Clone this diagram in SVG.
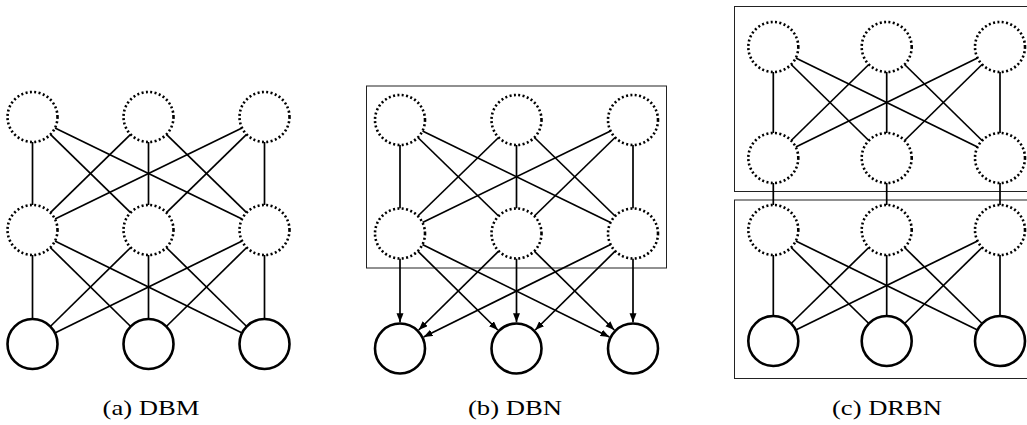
<svg xmlns="http://www.w3.org/2000/svg" width="1027" height="425" viewBox="0 0 1027 425">
<style>
.h{fill:#fff;stroke:#000;stroke-width:2.6;stroke-dasharray:2 2.4}
.v{fill:#fff;stroke:#000;stroke-width:2.6}
.e line{stroke:#000;stroke-width:1.7}
.a line{marker-end:url(#ah)}
.box{fill:none;stroke:#222;stroke-width:1}
.cap{font-family:"Liberation Serif",serif;font-size:22px;fill:#000;text-anchor:middle}
</style>
<defs>
<marker id="ah" markerUnits="userSpaceOnUse" markerWidth="10" markerHeight="8" refX="9" refY="3.5" orient="auto">
<path d="M0,0 L9,3.5 L0,7 z" fill="#000"/>
</marker>
</defs>
<rect width="1027" height="425" fill="#fff"/>
<rect class="box" x="366.5" y="86" width="300" height="182"/>
<rect class="box" x="734.5" y="6.5" width="300" height="185"/>
<rect class="box" x="734.5" y="200" width="300" height="178.5"/>
<g id="connectors" class="e">
<g id="conn-a">
<line x1="32.5" y1="142" x2="32.5" y2="205"/><line x1="148.5" y1="142" x2="148.5" y2="205"/><line x1="264.5" y1="142" x2="264.5" y2="205"/>
<line x1="50.4" y1="134.4" x2="130.6" y2="212.6"/><line x1="166.4" y1="134.4" x2="246.6" y2="212.6"/>
<line x1="130.6" y1="134.4" x2="50.4" y2="212.6"/><line x1="246.6" y1="134.4" x2="166.4" y2="212.6"/>
<line x1="55" y1="128" x2="242" y2="219"/><line x1="242" y1="128" x2="55" y2="219"/>
<line x1="32.5" y1="255" x2="32.5" y2="319"/><line x1="148.5" y1="255" x2="148.5" y2="319"/><line x1="264.5" y1="255" x2="264.5" y2="319"/>
<line x1="50.3" y1="247.5" x2="130.7" y2="326.5"/><line x1="166.3" y1="247.5" x2="246.7" y2="326.5"/>
<line x1="130.7" y1="247.5" x2="50.3" y2="326.5"/><line x1="246.7" y1="247.5" x2="166.3" y2="326.5"/>
<line x1="54.9" y1="241" x2="242.1" y2="333"/><line x1="242.1" y1="241" x2="54.9" y2="333"/>
</g>
<g id="conn-b">
<line x1="400" y1="145" x2="400" y2="208.5"/><line x1="516.5" y1="145" x2="516.5" y2="208.5"/><line x1="633" y1="145" x2="633" y2="208.5"/>
<line x1="417.9" y1="137.5" x2="498.6" y2="216"/><line x1="534.4" y1="137.5" x2="615.1" y2="216"/>
<line x1="498.6" y1="137.5" x2="417.9" y2="216"/><line x1="615.1" y1="137.5" x2="534.4" y2="216"/>
<line x1="422.5" y1="131" x2="610.5" y2="222.5"/><line x1="610.5" y1="131" x2="422.5" y2="222.5"/>
<g class="a">
<line x1="400" y1="258.5" x2="400" y2="322.2"/><line x1="516.5" y1="258.5" x2="516.5" y2="322.2"/><line x1="633" y1="258.5" x2="633" y2="322.2"/>
<line x1="417.8" y1="251.1" x2="497.8" y2="330"/><line x1="534.3" y1="251.1" x2="614.3" y2="330"/>
<line x1="498.7" y1="251.1" x2="418.7" y2="330"/><line x1="615.2" y1="251.1" x2="535.2" y2="330"/>
<line x1="422.4" y1="244.6" x2="609.4" y2="336.9"/><line x1="610.6" y1="244.6" x2="423.6" y2="336.9"/>
</g>
</g>
<g id="conn-c">
<line x1="773.3" y1="72" x2="773.3" y2="133"/><line x1="886.7" y1="72" x2="886.7" y2="133"/><line x1="1000" y1="72" x2="1000" y2="133"/>
<line x1="791.2" y1="64.5" x2="868.8" y2="140.5"/><line x1="904.6" y1="64.5" x2="982.1" y2="140.5"/>
<line x1="868.8" y1="64.5" x2="791.2" y2="140.5"/><line x1="982.1" y1="64.5" x2="904.6" y2="140.5"/>
<line x1="795.8" y1="58" x2="977.5" y2="147"/><line x1="977.5" y1="58" x2="795.8" y2="147"/>
<line x1="773.3" y1="183" x2="773.3" y2="205"/><line x1="886.7" y1="183" x2="886.7" y2="205"/><line x1="1000" y1="183" x2="1000" y2="205"/>
<line x1="773.3" y1="255" x2="773.3" y2="316"/><line x1="886.7" y1="255" x2="886.7" y2="316"/><line x1="1000" y1="255" x2="1000" y2="316"/>
<line x1="791.2" y1="247.5" x2="868.8" y2="323.5"/><line x1="904.6" y1="247.5" x2="982.1" y2="323.5"/>
<line x1="868.8" y1="247.5" x2="791.2" y2="323.5"/><line x1="982.1" y1="247.5" x2="904.6" y2="323.5"/>
<line x1="795.8" y1="241" x2="977.5" y2="330"/><line x1="977.5" y1="241" x2="795.8" y2="330"/>
</g>
</g>
<g id="dbm">
<g id="a-h2-1"><circle class="h" cx="32.5" cy="117" r="25"/></g>
<g id="a-h2-2"><circle class="h" cx="148.5" cy="117" r="25"/></g>
<g id="a-h2-3"><circle class="h" cx="264.5" cy="117" r="25"/></g>
<g id="a-h1-1"><circle class="h" cx="32.5" cy="230" r="25"/></g>
<g id="a-h1-2"><circle class="h" cx="148.5" cy="230" r="25"/></g>
<g id="a-h1-3"><circle class="h" cx="264.5" cy="230" r="25"/></g>
<g id="a-v-1"><circle class="v" cx="32.5" cy="344" r="25"/></g>
<g id="a-v-2"><circle class="v" cx="148.5" cy="344" r="25"/></g>
<g id="a-v-3"><circle class="v" cx="264.5" cy="344" r="25"/></g>
</g>
<g id="dbn">
<g id="b-h2-1"><circle class="h" cx="400" cy="120" r="25"/></g>
<g id="b-h2-2"><circle class="h" cx="516.5" cy="120" r="25"/></g>
<g id="b-h2-3"><circle class="h" cx="633" cy="120" r="25"/></g>
<g id="b-h1-1"><circle class="h" cx="400" cy="233.5" r="25"/></g>
<g id="b-h1-2"><circle class="h" cx="516.5" cy="233.5" r="25"/></g>
<g id="b-h1-3"><circle class="h" cx="633" cy="233.5" r="25"/></g>
<g id="b-v-1"><circle class="v" cx="400" cy="348.5" r="25"/></g>
<g id="b-v-2"><circle class="v" cx="516.5" cy="348.5" r="25"/></g>
<g id="b-v-3"><circle class="v" cx="633" cy="348.5" r="25"/></g>
</g>
<g id="drbn">
<g id="c-h3-1"><circle class="h" cx="773.3" cy="47" r="25"/></g>
<g id="c-h3-2"><circle class="h" cx="886.7" cy="47" r="25"/></g>
<g id="c-h3-3"><circle class="h" cx="1000" cy="47" r="25"/></g>
<g id="c-h2-1"><circle class="h" cx="773.3" cy="158" r="25"/></g>
<g id="c-h2-2"><circle class="h" cx="886.7" cy="158" r="25"/></g>
<g id="c-h2-3"><circle class="h" cx="1000" cy="158" r="25"/></g>
<g id="c-h1-1"><circle class="h" cx="773.3" cy="230" r="25"/></g>
<g id="c-h1-2"><circle class="h" cx="886.7" cy="230" r="25"/></g>
<g id="c-h1-3"><circle class="h" cx="1000" cy="230" r="25"/></g>
<g id="c-v-1"><circle class="v" cx="773.3" cy="341" r="25"/></g>
<g id="c-v-2"><circle class="v" cx="886.7" cy="341" r="25"/></g>
<g id="c-v-3"><circle class="v" cx="1000" cy="341" r="25"/></g>
</g>
<g id="captions">
<text class="cap" x="151" y="415" textLength="97" lengthAdjust="spacingAndGlyphs">(a) DBM</text>
<text class="cap" x="515" y="415" textLength="94" lengthAdjust="spacingAndGlyphs">(b) DBN</text>
<text class="cap" x="887" y="415" textLength="110" lengthAdjust="spacingAndGlyphs">(c) DRBN</text>
</g>
</svg>
